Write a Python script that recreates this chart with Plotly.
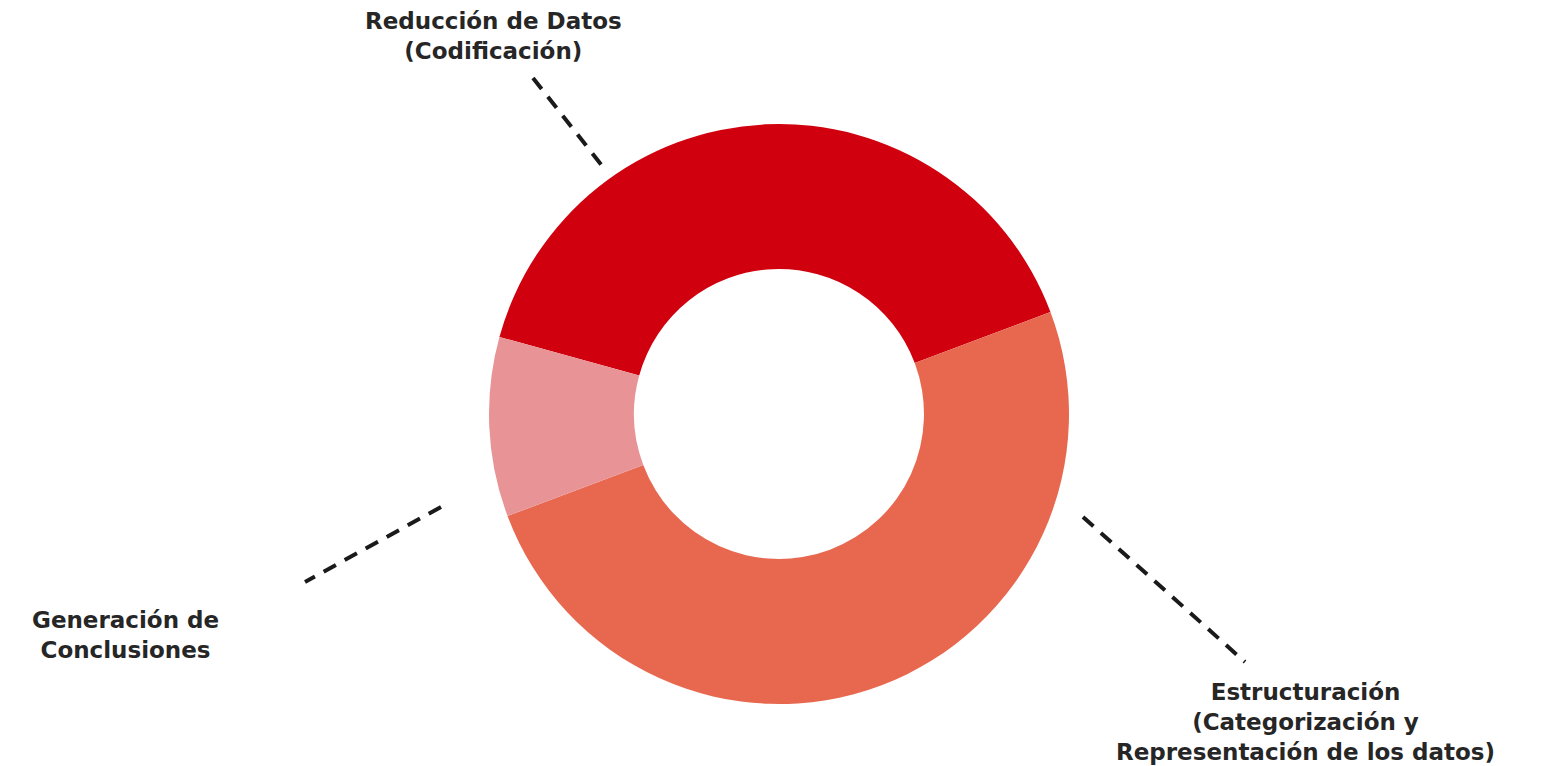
import plotly.graph_objects as go

W, H = 1560, 766

# Data
stages = ["Reducción de Datos (Codificación)",
          "Estructuración (Categorización y Representación de los datos)",
          "Generación de Conclusiones"]
shares = [40, 50, 10]
colors = ["#D0000F", "#E8684F", "#E89497"]

label_texts = ["Reducción de Datos<br>(Codificación)",
               "Estructuración<br>(Categorización y<br>Representación de los datos)",
               "Generación de<br>Conclusiones"]

def px(x):
    return x / W

def py(y):
    return 1 - y / H

cx, cy, r = 779, 414, 290

fig = go.Figure(go.Pie(
    labels=stages,
    values=shares,
    marker=dict(colors=colors, line=dict(width=0)),
    hole=0.5,
    sort=False,
    direction="clockwise",
    rotation=-74.6,
    textinfo="none",
    hoverinfo="label+percent",
    showlegend=False,
    domain=dict(x=[px(cx - r), px(cx + r)], y=[py(cy + r), py(cy - r)]),
))

# Label positions (centers, in pixels) and leader lines
label_pos = [(493, 36), (1305, 722), (125, 635)]
leaders = [((533, 78), (607, 172)),
           ((1083, 517), (1245, 662)),
           ((441, 507), (305, 582))]

font = dict(family="DejaVu Sans", size=23, color="#262626", weight="bold")
for txt, (lx, ly) in zip(label_texts, label_pos):
    fig.add_annotation(x=px(lx), y=py(ly), xref="paper", yref="paper",
                       text=txt, showarrow=False, font=font,
                       xanchor="center", yanchor="middle", align="center")

for (x0, y0), (x1, y1) in leaders:
    fig.add_shape(type="line", xref="paper", yref="paper",
                  x0=px(x0), y0=py(y0), x1=px(x1), y1=py(y1),
                  line=dict(color="#1a1a1a", width=4, dash="14px,10px"))

fig.update_layout(width=W, height=H, margin=dict(l=0, r=0, t=0, b=0),
                  paper_bgcolor="white", plot_bgcolor="white")

fig.write_html("out.html", config={"displayModeBar": False},
               post_script="document.body.style.margin='0';")
